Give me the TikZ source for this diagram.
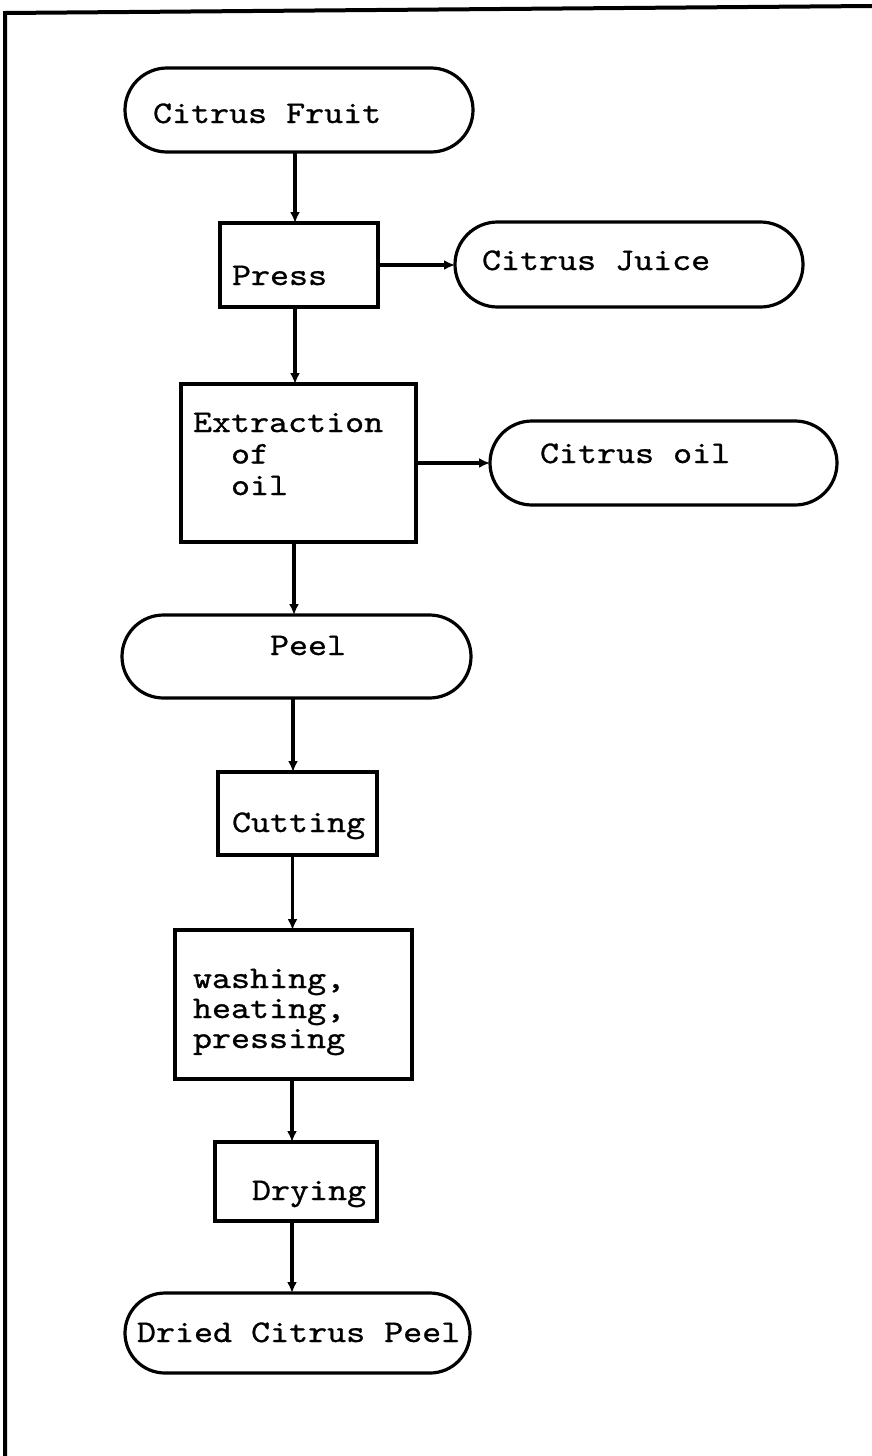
\documentclass[tikz,border=0pt]{standalone}
\usepackage{fontspec}
\newfontfamily\tw[Extension=.otf,FakeBold=0.8,FakeStretch=1.15]{lmmono10-regular}
\usetikzlibrary{shapes.misc,arrows.meta}
\begin{document}
\begin{tikzpicture}[x=1pt,y=-1pt,
  pill/.style={draw,line width=3.2pt,rounded rectangle,inner sep=0,outer sep=0},
  procbox/.style={draw,line width=3.2pt,rectangle,inner sep=0,outer sep=0},
  lbl/.style={anchor=base west,inner sep=0,outer sep=0,font=\tw\fontsize{31.5}{31}\selectfont},
  arr/.style={line width=3.4pt,-{Latex[length=11pt,width=10pt]}}]
\useasboundingbox (0,0) rectangle (872,1456);
% frame
\coordinate (fb) at (5,1456);
\coordinate (ftl) at (5,13);
\coordinate (ftr) at (872,6);
\draw[line width=4pt] (fb) -- (ftl) -- (ftr);
% shapes
\node[pill,minimum width=348pt,minimum height=84pt] (cf) at (299,110) {};
\node[procbox,minimum width=158pt,minimum height=84pt] (press) at (299,265) {};
\node[pill,minimum width=348pt,minimum height=85pt] (juice) at (629,264.5) {};
\node[procbox,minimum width=235pt,minimum height=158pt] (extr) at (298.5,463) {};
\node[pill,minimum width=347pt,minimum height=84pt] (oil) at (663.5,463) {};
\node[pill,minimum width=349pt,minimum height=83pt] (peel) at (296.5,656.5) {};
\node[procbox,minimum width=159pt,minimum height=83pt] (cut) at (297.5,813.5) {};
\node[procbox,minimum width=237pt,minimum height=149pt] (wash) at (293.5,1004.5) {};
\node[procbox,minimum width=162pt,minimum height=79pt] (dry) at (296,1181.5) {};
\node[pill,minimum width=345pt,minimum height=80pt] (dried) at (297.5,1333) {};
% labels
\node[lbl] (tcf) at (153,123) {Citrus Fruit};
\node[lbl] (tpress) at (232,285) {Press};
\node[lbl] (tjuice) at (482,270) {Citrus Juice};
\node[lbl] (textr) at (193,432) {\vtop{\baselineskip=31.5pt\hbox{Extraction}\hbox{\phantom{Ex}of}\hbox{\phantom{Ex}oil}}};
\node[lbl] (toil) at (540,463) {Citrus oil};
\node[lbl] (tpeel) at (270,655) {Peel};
\node[lbl] (tcut) at (232,832) {Cutting};
\node[lbl] (twash) at (193,988) {\vtop{\baselineskip=30pt\hbox{washing,}\hbox{heating,}\hbox{pressing}}};
\node[lbl] (tdry) at (252,1200) {Drying};
\node[lbl] (tdried) at (137,1342) {Dried Citrus Peel};
% connectors
\draw[arr] ([xshift=-4pt]cf.south) -- ([xshift=-4pt]cf.south |- press.north);
\draw[arr] (press.east) -- (press.east -| juice.west);
\draw[arr] ([xshift=-4pt]press.south) -- ([xshift=-4pt]press.south |- extr.north);
\draw[arr] (extr.east) -- (oil.west);
\draw[arr] ([xshift=-4.5pt]extr.south) -- ([xshift=-4.5pt]extr.south |- peel.north);
\draw[arr] ([xshift=-3.5pt]peel.south) -- ([xshift=-3.5pt]peel.south |- cut.north);
\draw[arr] ([xshift=-5pt]cut.south) -- ([xshift=-5pt]cut.south |- wash.north);
\draw[arr] ([xshift=-1.5pt]wash.south) -- ([xshift=-1.5pt]wash.south |- dry.north);
\draw[arr] ([xshift=-4pt]dry.south) -- ([xshift=-4pt]dry.south |- dried.north);
\end{tikzpicture}
\end{document}
